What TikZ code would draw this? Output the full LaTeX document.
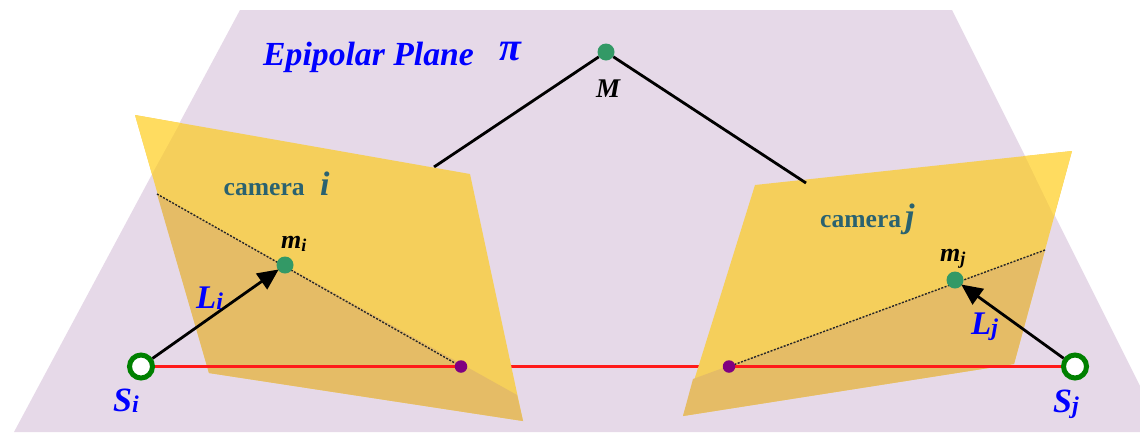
\documentclass[tikz,border=0pt]{standalone}
\usepackage{fontspec}
\setmainfont{Liberation Serif}
\usetikzlibrary{arrows.meta}
\pgfdeclarelayer{low}
\pgfdeclarelayer{mid}
\pgfsetlayers{low,mid,main}
\definecolor{planec}{HTML}{E6D9E8}
\definecolor{camlight}{HTML}{F5CF5B}
\definecolor{camover}{HTML}{FFDC60}
\definecolor{camdark}{HTML}{E5BC66}
\definecolor{ptgreen}{HTML}{339966}
\definecolor{ringgreen}{HTML}{008000}
\definecolor{ptpurple}{HTML}{800080}
\definecolor{labteal}{HTML}{2A6270}
\definecolor{redline}{HTML}{FF1A1A}
\newcommand{\fsz}[1]{\fontsize{#1}{#1}\selectfont}
\tikzset{
  x=1pt,y=-1pt,
  txt/.style={inner sep=0pt,anchor=base west,font=\bfseries\itshape},
  bluetxt/.style={txt,text=blue},
  tealtxt/.style={inner sep=0pt,anchor=base west,text=labteal},
  dotgreen/.style={circle,fill=ptgreen,inner sep=0pt,minimum size=17pt},
  dotpurple/.style={circle,fill=ptpurple,inner sep=0pt,minimum size=12.5pt},
  ring/.style={circle,draw=ringgreen,fill=white,line width=5pt,inner sep=0pt,minimum size=23pt},
  redl/.style={draw=redline,line width=3pt},
  blackl/.style={draw=black,line width=2.8pt},
  dotl/.style={draw=black!85,line width=1.4pt,dash pattern=on 2pt off 1.5pt},
  arrowl/.style={draw=black,line width=2.8pt,shorten >=-1pt,-{Triangle[length=21pt,width=19pt]}},
}
\begin{document}
\begin{tikzpicture}
\useasboundingbox (0,0) rectangle (1140,432);
% points
\node[dotgreen] (M) at (606,52) {};
\node[dotgreen] (mi) at (285,265) {};
\node[dotgreen] (mj) at (955,280) {};
\node[dotpurple] (ei) at (461,366.5) {};
\node[dotpurple] (ej) at (729,366.5) {};
\node[ring] (si) at (141,366.5) {};
\node[ring] (sj) at (1075,366.5) {};
\coordinate (ci) at (434,167);
\coordinate (cj) at (806,183);
\coordinate (li) at (157,194);
\coordinate (lj) at (1045,250);
\begin{pgfonlayer}{low}
  \fill[planec] (240,10) -- (952,10) -- (1140,386) -- (1140,432) -- (14,432) -- cycle;
  \path[redl] (si) -- (sj);
  \path[blackl] (M) -- (ci);
  % camera i
  \fill[camlight] (135,115) -- (470,174) -- (523,421) -- (209,373) -- cycle;
  \fill[camover] (135,115) -- (180,123) -- (152,174) -- cycle;
  \fill[camdark] (157,194) -- (517,395) -- (523,421) -- (209,373) -- cycle;
  % camera j
  \fill[camlight] (755,185) -- (1072,151) -- (1014,364) -- (683,416) -- cycle;
  \fill[camover] (1072,151) -- (1025,156) -- (1054,216) -- cycle;
  \fill[camdark] (693,379) -- (1045,250) -- (1014,364) -- (683,416) -- cycle;
\end{pgfonlayer}
\begin{pgfonlayer}{mid}
  \path[blackl] (M) -- (cj);
  \path[redl] (si) -- (ei);
  \path[redl] (sj) -- (ej);
  \path[dotl] (li) -- (ei);
  \path[dotl] (lj) -- (ej);
\end{pgfonlayer}
\path[arrowl] (si) -- (mi);
\path[arrowl] (sj) -- (mj);
% labels
\node[bluetxt,font=\bfseries\itshape\fsz{33.7}] (title) at (263,65.5) {Epipolar Plane};
\node[bluetxt,font=\bfseries\itshape\fsz{40}] (pi) at (499,60.5) {π};
\node[txt,font=\bfseries\itshape\fsz{27}] (Mlab) at (596,97) {M};
\node[tealtxt,font=\bfseries\fsz{25.6}] (cami) at (223.5,195) {camera};
\node[tealtxt,font=\bfseries\itshape\fsz{34}] (ii) at (320,195) {i};
\node[tealtxt,font=\bfseries\fsz{25.6}] (camj) at (820,227.5) {camera};
\node[tealtxt,font=\bfseries\itshape\fsz{34}] (jj) at (905,227) {j};
\node[txt,font=\bfseries\itshape\fsz{26}] (mil) at (281,248) {m\raisebox{-3pt}{\fsz{18}i}};
\node[txt,font=\bfseries\itshape\fsz{26}] (mjl) at (940,261) {m\raisebox{-3pt}{\fsz{18}j}};
\node[bluetxt,font=\bfseries\itshape\fsz{33}] (Lil) at (196,308) {L\raisebox{-1pt}{\fsz{24}i}};
\node[bluetxt,font=\bfseries\itshape\fsz{33}] (Ljl) at (971,334) {L\raisebox{-1pt}{\fsz{24}j}};
\node[bluetxt,font=\bfseries\itshape\fsz{34}] (Sil) at (113,411) {S\raisebox{-1pt}{\fsz{24}i}};
\node[bluetxt,font=\bfseries\itshape\fsz{34}] (Sjl) at (1053,412) {S\raisebox{-1pt}{\fsz{24}j}};
\end{tikzpicture}
\end{document}
